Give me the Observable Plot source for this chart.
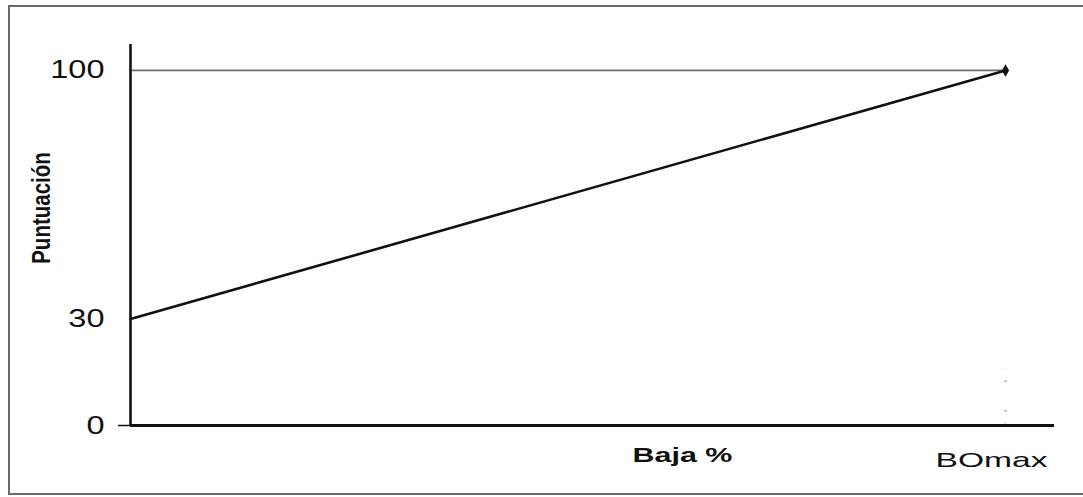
<!DOCTYPE html>
<html><head><meta charset="utf-8">
<script src="https://cdn.jsdelivr.net/npm/d3@7"></script>
<script src="https://cdn.jsdelivr.net/npm/@observablehq/plot@0.6"></script>
<style>
html,body{margin:0;padding:0;background:#fff;overflow:hidden;}
#wrap{position:relative;width:1083px;height:497px;overflow:hidden;background:#fff;}
#wrap svg{position:absolute;left:0;top:0;}
.edge{position:absolute;background:#6a6a6a;pointer-events:none;}
</style></head><body><div id="wrap"></div>
<script>
// Data
const bajaValues = [0, 1];          // 0 .. BOmax (normalised)
const scoreValues = [30, 100];      // Puntuación
const yTickValues = [0, 30, 100];
const xTickValues = [1];
const xTickLabels = ["BOmax"];
const xTitle = "Baja %";
const yTitle = "Puntuación";

const lineData = bajaValues.map((b, i) => ({baja: b, score: scoreValues[i]}));
const xTicks = xTickValues.map((v, i) => ({v, label: xTickLabels[i]}));

const font = "Liberation Sans, Arial, Helvetica, sans-serif";

const chart = Plot.plot({
  width: 1083,
  height: 497,
  marginLeft: 130,
  marginRight: 29,
  marginTop: 44,
  marginBottom: 72,
  style: {fontFamily: font, background: "transparent", color: "#111"},
  x: {domain: [0, 1.056], axis: null},
  y: {domain: [0, 107.3], axis: null},
  marks: [
    Plot.ruleY([100], {x1: bajaValues[0], x2: xTickValues[0], stroke: "#6e6e6e", strokeWidth: 1.6}),
    Plot.ruleX(xTickValues, {y1: 0, y2: 16, stroke: "#555", strokeWidth: 1.5, strokeDasharray: "1.5 12 1.5 28", strokeOpacity: 0.7}),
    Plot.ruleX([0], {stroke: "#111", strokeWidth: 2.6}),
    Plot.ruleY([0], {stroke: "#111", strokeWidth: 3}),
    Plot.ruleY([0], {x1: 0, x2: 0, insetLeft: -12, stroke: "#111", strokeWidth: 1.5}),
    Plot.line(lineData, {x: "baja", y: "score", stroke: "#111", strokeWidth: 2.6}),
    Plot.dot(lineData.filter(d => d.baja === xTickValues[0]), {x: "baja", y: "score", r: 3.8, fill: "#111", symbol: "diamond"}),
    Plot.text(yTickValues, {x: 0, y: d => d, text: d => String(d), dx: -26, textAnchor: "end", fontSize: 25, fill: "#111"}),
    Plot.text(xTicks, {x: "v", y: 0, text: "label", dx: -14, dy: 35, textAnchor: "middle", fontSize: 21, fill: "#111"}),
    Plot.text([xTitle], {frameAnchor: "bottom", text: d => d, dx: 90, dy: 36, textAnchor: "middle", fontSize: 21, fontWeight: "bold", fill: "#111"}),
    Plot.text([yTitle], {frameAnchor: "left", text: d => d, dx: -89, dy: -27, rotate: -90, textAnchor: "middle", fontSize: 25, fontWeight: "bold", fill: "#111"})
  ]
});

// horizontal stretch of the scanned lettering (keeps Plot's own x/y attributes)
function stretch(labels, sx) {
  const set = new Set(labels.map(String));
  chart.querySelectorAll("text").forEach(t => {
    if (!set.has(t.textContent)) return;
    const tr = t.getAttribute("transform") || "";
    t.setAttribute("transform", `${tr} scale(${sx},1)`);
  });
}
stretch(yTickValues, 1.3);
stretch(xTickLabels, 1.6);
stretch([xTitle], 1.45);
stretch([yTitle], 0.82);

const wrap = document.getElementById("wrap");
wrap.appendChild(chart);
// scanned page frame: left, top and bottom edges only
[["8px","5px","2px","490px"],["8px","5px","1075px","2px"],["8px","493px","1075px","2px"]].forEach(([l,t,w,h]) => {
  const e = document.createElement("div");
  e.className = "edge";
  Object.assign(e.style, {left: l, top: t, width: w, height: h});
  wrap.appendChild(e);
});
</script>
</body></html>
